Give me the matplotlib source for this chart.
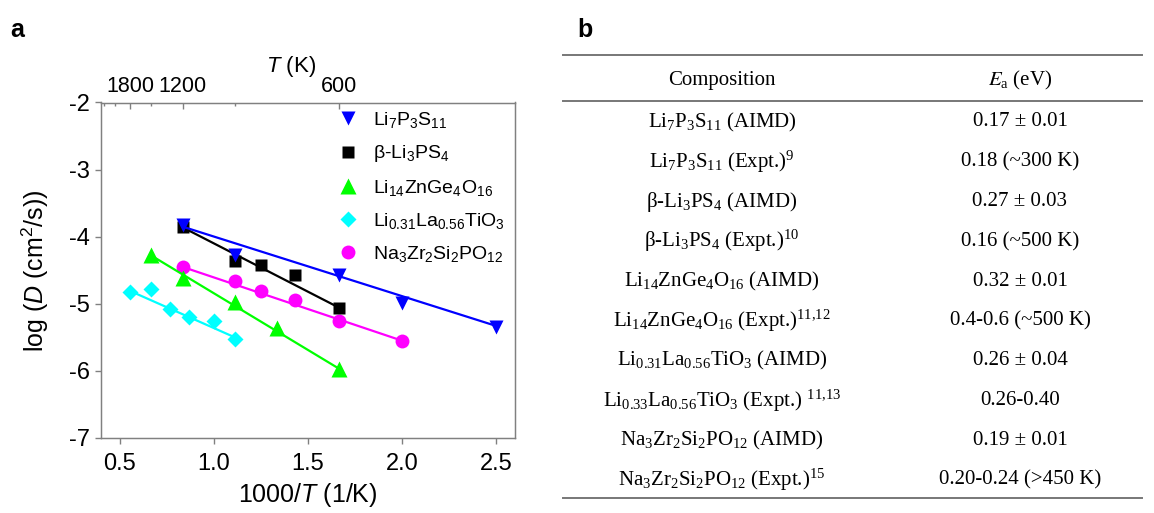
import numpy as np
import matplotlib
matplotlib.use("Agg")
import matplotlib.pyplot as plt

plt.rcParams["font.family"] = "Liberation Sans"
plt.rcParams["mathtext.fontset"] = "custom"
plt.rcParams["mathtext.default"] = "regular"
plt.rcParams["mathtext.rm"] = "Liberation Sans"
plt.rcParams["mathtext.it"] = "Liberation Sans:italic"

# temperatures (K) and log D values
T_lps = [1200, 900, 600, 500, 400]
D_lps = [-3.83, -4.27, -4.57, -4.99, -5.35]
fit_lps = [-3.85, -5.33]

T_beta = [1200, 900, 800, 700, 600]
D_beta = [-3.86, -4.36, -4.42, -4.57, -5.06]
fit_beta = [-3.86, -5.06]

T_lzgo = [1500, 1200, 900, 750, 600]
D_lzgo = [-4.28, -4.62, -4.97, -5.36, -5.97]
fit_lzgo = [-4.28, -5.97]

T_llto = [1800, 1500, 1300, 1150, 1000, 900]
D_llto = [-4.83, -4.78, -5.08, -5.19, -5.25, -5.53]
fit_llto = [-4.81, -5.50]

T_nzsp = [1200, 900, 800, 700, 600, 500]
D_nzsp = [-4.45, -4.66, -4.81, -4.95, -5.25, -5.55]
fit_nzsp = [-4.45, -5.55]

top_major_T = [1800, 1200, 600]
top_minor_T = [2400, 2100, 1500, 900]

table_comp = [
    r"Li$_7$P$_3$S$_{11}$ (AIMD)",
    r"Li$_7$P$_3$S$_{11}$ (Expt.)$^{9}$",
    r"β-Li$_3$PS$_4$ (AIMD)",
    r"β-Li$_3$PS$_4$ (Expt.)$^{10}$",
    r"Li$_{14}$ZnGe$_4$O$_{16}$ (AIMD)",
    r"Li$_{14}$ZnGe$_4$O$_{16}$ (Expt.)$^{11{,}12}$",
    r"Li$_{0.31}$La$_{0.56}$TiO$_3$ (AIMD)",
    r"Li$_{0.33}$La$_{0.56}$TiO$_3$ (Expt.) $^{11{,}13}$",
    r"Na$_3$Zr$_2$Si$_2$PO$_{12}$ (AIMD)",
    r"Na$_3$Zr$_2$Si$_2$PO$_{12}$ (Expt.)$^{15}$",
]
table_ea = [
    "0.17 ± 0.01",
    "0.18 (~300 K)",
    "0.27 ± 0.03",
    "0.16 (~500 K)",
    "0.32 ± 0.01",
    "0.4-0.6 (~500 K)",
    "0.26 ± 0.04",
    "0.26-0.40",
    "0.19 ± 0.01",
    "0.20-0.24 (>450 K)",
]

W, H = 1154, 513
fig = plt.figure(figsize=(W / 100, H / 100), dpi=100)
ax = fig.add_axes([101 / W, 1 - 438 / H, 414 / W, 335.5 / H])

series = [
    (T_lps, D_lps, fit_lps, "v", "#0000ff", 10.5, r"Li$_7$P$_3$S$_{11}$", 6),
    (T_beta, D_beta, fit_beta, "s", "black", 8.6, r"β-Li$_3$PS$_4$", 5),
    (T_lzgo, D_lzgo, fit_lzgo, "^", "#00ff00", 11, r"Li$_{14}$ZnGe$_4$O$_{16}$", 4),
    (T_llto, D_llto, fit_llto, "D", "#00ffff", 7.8, r"Li$_{0.31}$La$_{0.56}$TiO$_3$", 3),
    (T_nzsp, D_nzsp, fit_nzsp, "o", "#ff00ff", 10, r"Na$_3$Zr$_2$Si$_2$PO$_{12}$", 3),
]

handles = []
for T, D, fit, mk, col, ms, lab, z in series:
    x = 1000 / np.array(T)
    ax.plot([x[0], x[-1]], fit, color=col, lw=1.6, zorder=z)
    h, = ax.plot(x, D, mk, color=col, ms=ms, mec="none", label=lab, zorder=z + 0.5)
    handles.append(h)

ax.set_xlim(0.4, 2.6)
ax.set_ylim(-7, -2)
ax.set_xticks([0.5, 1.0, 1.5, 2.0, 2.5])
ax.set_yticks([-7, -6, -5, -4, -3, -2])
ax.set_yticklabels(["-7", "-6", "-5", "-4", "-3", "-2"])
ax.tick_params(axis="both", direction="out", length=4, width=1, color="#808080",
               labelsize=17, pad=4)
ax.tick_params(axis="x", pad=7)
ax.tick_params(top=False, right=False)
for sp in ax.spines.values():
    sp.set_color("#808080")
    sp.set_linewidth(1.0)

ax.set_xlabel(r"1000/$\mathit{T}$ (1/K)", fontsize=18, labelpad=4)
ax.set_ylabel(r"log ($\mathit{D}$ (cm$^2$/s))", fontsize=18, labelpad=13)

# top axis in temperature
ax_top = ax.twiny()
ax_top.set_xlim(ax.get_xlim())
ax_top.set_xticks(1000 / np.array(top_major_T))
ax_top.set_xticklabels([str(t) for t in top_major_T])
ax_top.set_xticks(1000 / np.array(top_minor_T), minor=True)
ax_top.tick_params(axis="x", which="major", direction="in", length=4, width=1,
                   color="#808080", labelsize=15.5, pad=4)
ax_top.tick_params(axis="x", which="minor", direction="in", length=2.5, width=1,
                   color="#808080")
for sp in ax_top.spines.values():
    sp.set_color("#808080")
ax.text(0.458, 1.106, r"$\mathit{T}$ (K)", transform=ax.transAxes,
        ha="center", va="center", fontsize=16)

ax.legend(handles=handles, loc="upper left", bbox_to_anchor=(0.55, 1.0),
          frameon=False, fontsize=14, handletextpad=0.7, labelspacing=0.68,
          borderaxespad=0, handlelength=1.2)

fig.text(10 / W, 1 - 30 / H, "a", fontsize=18, fontweight="bold", va="center")
fig.text(577 / W, 1 - 30 / H, "b", fontsize=18, fontweight="bold", va="center")

# table panel, drawn in pixel coords
tab = fig.add_axes([0, 0, 1, 1])
tab.set_xlim(0, W)
tab.set_ylim(H, 0)
tab.axis("off")

col1, col2 = 722, 1020
x0, x1 = 563, 1142
for y in [55, 101, 498]:
    tab.plot([x0, x1], [y, y], color="#777777", lw=1.4)

tfont = dict(family="Liberation Serif", fontsize=15, ha="center", va="center")
tab.text(col1, 80, "Composition", **tfont)
tab.text(col2, 80, r"$\mathit{E}_a$ (eV)", math_fontfamily="stix", **tfont)
for i, (c, e) in enumerate(zip(table_comp, table_ea)):
    y = 122 + 39.8 * i
    tab.text(col1, y, c, **tfont)
    tab.text(col2, y, e, **tfont)

fig.savefig("out.png", dpi=100)
